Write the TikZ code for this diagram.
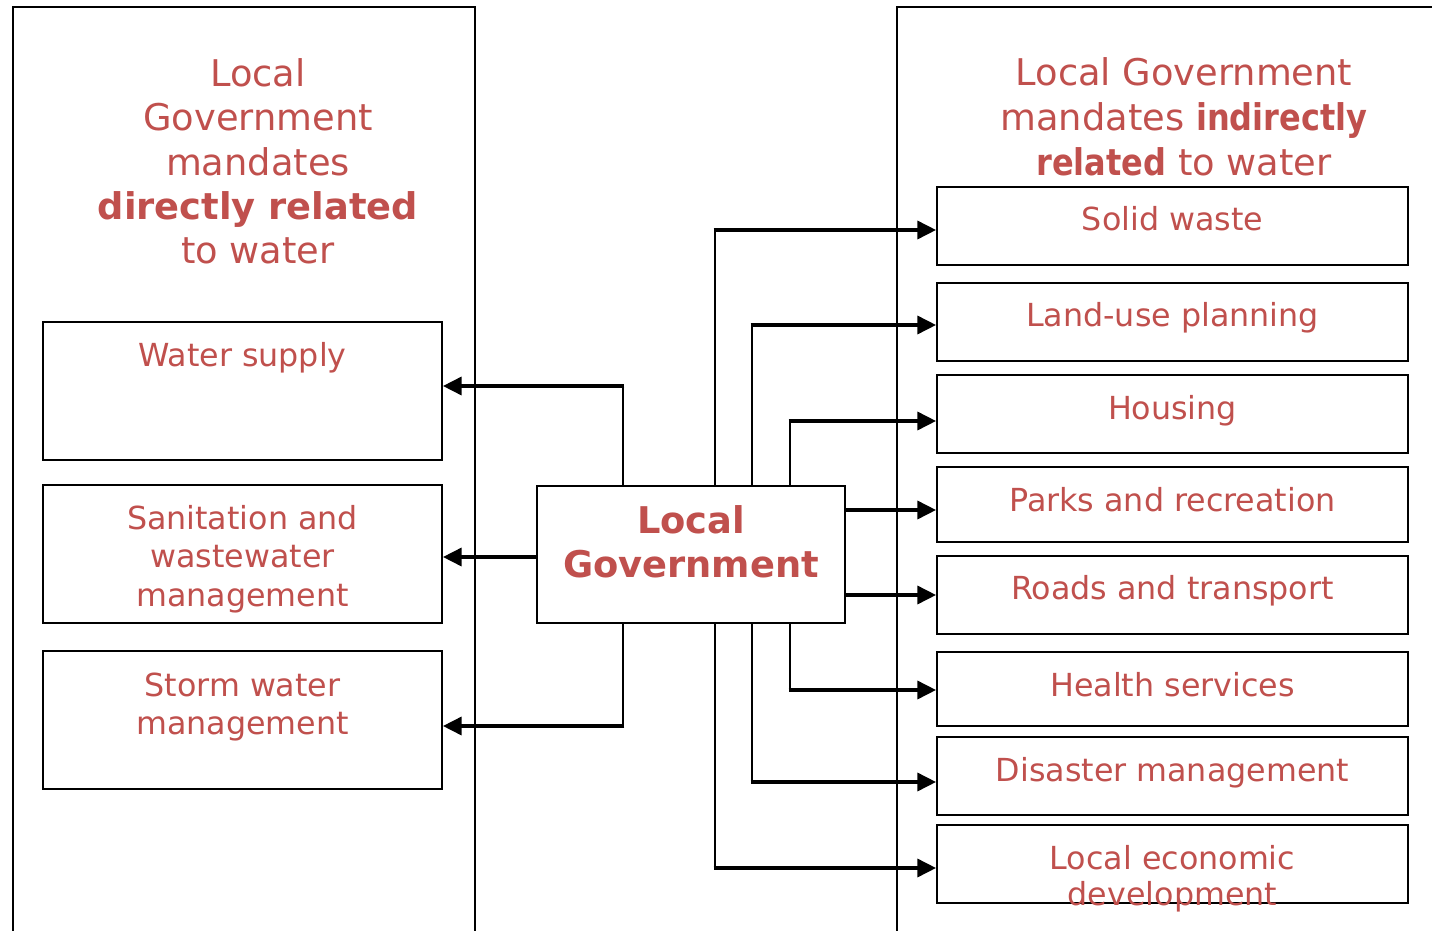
\documentclass[tikz,border=0pt]{standalone}
\usepackage{fontspec}
\setmainfont{DejaVu Sans}
\usetikzlibrary{arrows.meta,fit}
\definecolor{txt}{HTML}{C0504D}
\newcommand{\narrowbf}[1]{\scalebox{0.87}[1]{\bfseries #1}}
\begin{document}
\begin{tikzpicture}[x=0.75pt,y=-0.75pt,
  panel/.style={draw=black,line width=1.5pt},
  box/.style={draw=black,line width=1.4pt,fill=white,inner sep=0pt},
  ttl/.style={text=txt,font=\fontsize{27.6}{33}\selectfont,anchor=base,inner sep=0pt},
  lbl/.style={text=txt,font=\fontsize{23.8}{28}\selectfont,anchor=base,inner sep=0pt},
  vline/.style={line width=1.5pt},
  hline/.style={line width=2.5pt,-{Triangle[length=14pt,width=13.5pt]}}
]
\useasboundingbox (0,0) rectangle (1432,931);
\clip (0,0) rectangle (1432,931);

% panels
\draw[panel] (13,945) -- (13,7) -- (475,7) -- (475,945);
\draw[panel] (897,945) -- (897,7) -- (1440,7);

% left title
\node[ttl] (lt1) at (258,87) {Local};
\node[ttl] (lt2) at (258,130) {Government};
\node[ttl] (lt3) at (258,175) {mandates};
\node[ttl] (lt4) at (258,219) {\bfseries directly related};
\node[ttl] (lt5) at (258,263) {to water};

% right title
\node[ttl] (rt1) at (1184,86) {Local Government};
\node[ttl] (rt2) at (1184,130) {mandates \narrowbf{indirectly}};
\node[ttl] (rt3) at (1184,175) {\narrowbf{related} to water};

% left boxes
\node[box,fit={(43,322) (442,460)}] (ws) {};
\node[lbl] (wsl) at (242.5,366) {Water supply};
\node[box,fit={(43,485) (442,623)}] (san) {};
\node[lbl] (san1) at (242.5,529) {Sanitation and};
\node[lbl] (san2) at (242.5,567) {wastewater};
\node[lbl] (san3) at (242.5,606) {management};
\node[box,fit={(43,651) (442,789)}] (sto) {};
\node[lbl] (sto1) at (242.5,696) {Storm water};
\node[lbl] (sto2) at (242.5,734) {management};

% right boxes
\node[box,fit={(937,187) (1408,265)}] (sw) {};
\node[lbl] (swl) at (1172.5,230) {Solid waste};
\node[box,fit={(937,283) (1408,361)}] (lu) {};
\node[lbl] (lul) at (1172.5,326) {Land-use planning};
\node[box,fit={(937,375) (1408,453)}] (ho) {};
\node[lbl] (hol) at (1172.5,419) {Housing};
\node[box,fit={(937,467) (1408,542)}] (pr) {};
\node[lbl] (prl) at (1172.5,511) {Parks and recreation};
\node[box,fit={(937,556) (1408,634)}] (rd) {};
\node[lbl] (rdl) at (1172.5,599) {Roads and transport};
\node[box,fit={(937,652) (1408,726)}] (hs) {};
\node[lbl] (hsl) at (1172.5,696) {Health services};
\node[box,fit={(937,737) (1408,815)}] (dm) {};
\node[lbl] (dml) at (1172.5,781) {Disaster management};
\node[box,fit={(937,825) (1408,903)}] (le) {};
\node[lbl] (le1) at (1172.5,869) {Local economic};
\node[lbl] (le2) at (1172.5,905) {development};

% central box
\node[box,fit={(537,486) (845,623)}] (lg) {};
\node[ttl] (lg1) at (691,533) {\bfseries Local};
\node[ttl] (lg2) at (691,577) {\bfseries Government};

% connectors to the left
\coordinate (cws) at (623,386);
\draw[vline] (lg.north -| cws) -- (cws);
\draw[hline] ([xshift=1pt]cws) -- (cws -| ws.east);
\coordinate (csan) at (537,557);
\draw[hline] (csan) -- (csan -| san.east);
\coordinate (csto) at (623,726);
\draw[vline] (lg.south -| csto) -- (csto);
\draw[hline] ([xshift=1pt]csto) -- (csto -| sto.east);

% connectors to the right
\coordinate (csw) at (715,230);
\draw[vline] (lg.north -| csw) -- (csw);
\draw[hline] ([xshift=-1pt]csw) -- (csw -| sw.west);
\coordinate (clu) at (752,325);
\draw[vline] (lg.north -| clu) -- (clu);
\draw[hline] ([xshift=-1pt]clu) -- (clu -| lu.west);
\coordinate (cho) at (790,421);
\draw[vline] (lg.north -| cho) -- (cho);
\draw[hline] ([xshift=-1pt]cho) -- (cho -| ho.west);
\coordinate (cpr) at (845,510);
\draw[hline] (cpr) -- (cpr -| pr.west);
\coordinate (crd) at (845,595);
\draw[hline] (crd) -- (crd -| rd.west);
\coordinate (chs) at (790,690);
\draw[vline] (lg.south -| chs) -- (chs);
\draw[hline] ([xshift=-1pt]chs) -- (chs -| hs.west);
\coordinate (cdm) at (752,782);
\draw[vline] (lg.south -| cdm) -- (cdm);
\draw[hline] ([xshift=-1pt]cdm) -- (cdm -| dm.west);
\coordinate (cle) at (715,868);
\draw[vline] (lg.south -| cle) -- (cle);
\draw[hline] ([xshift=-1pt]cle) -- (cle -| le.west);
\end{tikzpicture}
\end{document}
